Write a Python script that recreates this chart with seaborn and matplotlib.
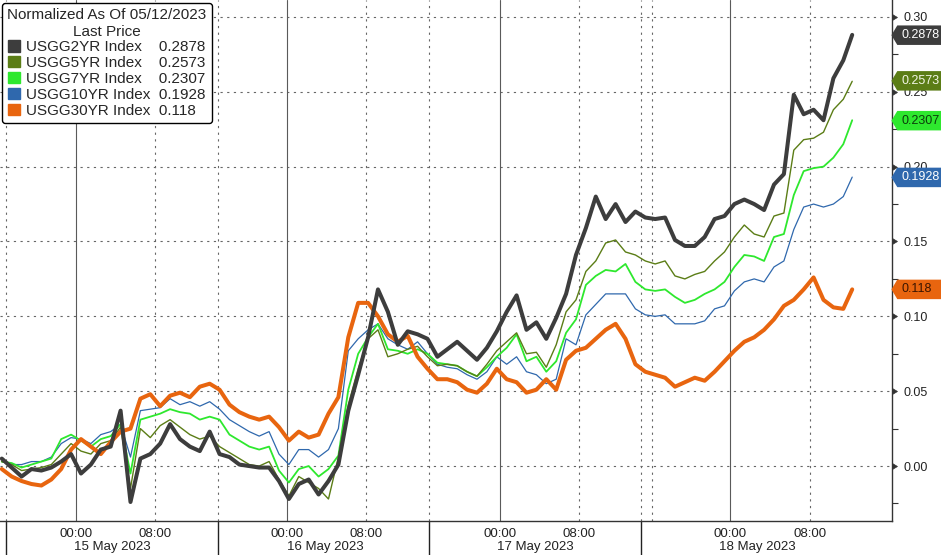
import numpy as np
import pandas as pd
import matplotlib
matplotlib.use("Agg")
import matplotlib.pyplot as plt
import seaborn as sns
from matplotlib.path import Path
from matplotlib.patches import Patch
from matplotlib import font_manager, markers

# time axis in session hours: 15 May 00:00 = 0, one unit per hour on screen
hours = list(np.arange(-7.5, 78.0, 1.0)) + [78.4]

# yield change since 05/12/2023 close
usgg2 = [0.005, -0.001, -0.007, -0.002, -0.003, -0.001, 0.003, 0.008, -0.005, 0.001,
         0.011, 0.013, 0.037, -0.024, 0.005, 0.008, 0.015, 0.028, 0.018, 0.013,
         0.010, 0.023, 0.008, 0.006, 0.001, 0.000, -0.001, -0.001, -0.010, -0.022,
         -0.012, -0.009, -0.019, -0.010, 0.001, 0.037, 0.061, 0.086, 0.118, 0.103,
         0.081, 0.090, 0.088, 0.085, 0.073, 0.078, 0.083, 0.077, 0.071, 0.079,
         0.090, 0.103, 0.114, 0.091, 0.096, 0.085, 0.099, 0.115, 0.141, 0.159,
         0.180, 0.165, 0.175, 0.163, 0.170, 0.166, 0.165, 0.166, 0.151, 0.147,
         0.147, 0.153, 0.165, 0.167, 0.175, 0.178, 0.175, 0.171, 0.188, 0.195,
         0.248, 0.235, 0.238, 0.231, 0.259, 0.271, 0.288]
usgg5 = [0.003, 0.001, -0.003, -0.002, -0.001, 0.001, 0.008, 0.015, 0.010, 0.008,
         0.015, 0.017, 0.026, -0.015, 0.025, 0.019, 0.027, 0.031, 0.026, 0.021,
         0.018, 0.020, 0.013, 0.009, 0.005, 0.001, 0.000, 0.003, -0.009, -0.020,
         -0.007, -0.011, -0.015, -0.022, 0.006, 0.041, 0.065, 0.085, 0.091, 0.073,
         0.075, 0.078, 0.080, 0.073, 0.067, 0.068, 0.067, 0.063, 0.060, 0.068,
         0.077, 0.083, 0.089, 0.075, 0.076, 0.066, 0.081, 0.103, 0.111, 0.130,
         0.137, 0.149, 0.151, 0.143, 0.141, 0.137, 0.135, 0.137, 0.127, 0.125,
         0.128, 0.130, 0.137, 0.143, 0.153, 0.161, 0.155, 0.153, 0.167, 0.169,
         0.211, 0.218, 0.219, 0.223, 0.238, 0.245, 0.257]
usgg7 = [0.003, 0.002, -0.001, 0.001, 0.003, 0.005, 0.018, 0.021, 0.017, 0.013,
         0.018, 0.020, 0.028, -0.005, 0.031, 0.033, 0.035, 0.038, 0.036, 0.035,
         0.031, 0.033, 0.031, 0.021, 0.017, 0.013, 0.011, 0.013, -0.003, -0.011,
         -0.002, 0.000, -0.007, -0.002, 0.007, 0.051, 0.075, 0.086, 0.095, 0.078,
         0.077, 0.075, 0.078, 0.075, 0.069, 0.068, 0.067, 0.063, 0.060, 0.066,
         0.073, 0.079, 0.088, 0.070, 0.073, 0.063, 0.070, 0.089, 0.098, 0.121,
         0.127, 0.131, 0.130, 0.135, 0.123, 0.118, 0.117, 0.118, 0.113, 0.109,
         0.111, 0.115, 0.118, 0.123, 0.133, 0.141, 0.140, 0.137, 0.153, 0.155,
         0.181, 0.197, 0.199, 0.200, 0.206, 0.215, 0.231]
usgg10 = [0.003, 0.001, 0.001, 0.003, 0.003, 0.006, 0.015, 0.019, 0.018, 0.015,
          0.021, 0.023, 0.028, 0.006, 0.037, 0.038, 0.039, 0.045, 0.041, 0.043,
          0.040, 0.043, 0.038, 0.031, 0.027, 0.023, 0.020, 0.023, 0.008, 0.001,
          0.011, 0.011, 0.006, 0.011, 0.025, 0.077, 0.085, 0.091, 0.095, 0.085,
          0.081, 0.078, 0.083, 0.075, 0.068, 0.066, 0.065, 0.061, 0.058, 0.063,
          0.073, 0.068, 0.073, 0.063, 0.061, 0.055, 0.058, 0.085, 0.081, 0.101,
          0.108, 0.115, 0.115, 0.115, 0.105, 0.101, 0.100, 0.101, 0.095, 0.095,
          0.095, 0.097, 0.105, 0.107, 0.117, 0.123, 0.125, 0.123, 0.133, 0.137,
          0.158, 0.173, 0.175, 0.173, 0.175, 0.180, 0.193]
usgg30 = [-0.002, -0.007, -0.010, -0.012, -0.013, -0.009, -0.002, 0.011, 0.018, 0.013,
          0.008, 0.016, 0.023, 0.025, 0.045, 0.048, 0.040, 0.047, 0.049, 0.046,
          0.053, 0.055, 0.051, 0.041, 0.036, 0.033, 0.031, 0.033, 0.026, 0.017,
          0.023, 0.019, 0.021, 0.035, 0.046, 0.086, 0.109, 0.109, 0.100, 0.088,
          0.083, 0.087, 0.073, 0.065, 0.058, 0.058, 0.056, 0.051, 0.049, 0.055,
          0.065, 0.058, 0.056, 0.049, 0.051, 0.058, 0.051, 0.071, 0.077, 0.079,
          0.085, 0.091, 0.095, 0.085, 0.068, 0.063, 0.061, 0.059, 0.053, 0.056,
          0.059, 0.057, 0.063, 0.070, 0.077, 0.083, 0.086, 0.091, 0.098, 0.107,
          0.111, 0.118, 0.126, 0.111, 0.106, 0.105, 0.118]

series_names = ["USGG2YR Index", "USGG5YR Index", "USGG7YR Index",
                "USGG10YR Index", "USGG30YR Index"]
last_prices = ["0.2878", "0.2573", "0.2307", "0.1928", "0.118"]
last_values = [0.2878, 0.2573, 0.2307, 0.1928, 0.118]
colors = ["#3d3d3d", "#5b7d16", "#2ee82e", "#2f68ad", "#e8650f"]
tag_text_colors = ["white", "#f2f6e6", "#0b3d0b", "white", "#3b1500"]
line_widths = [2.9, 1.0, 1.3, 0.9, 2.9]

yticks = [0.0, 0.05, 0.10, 0.15, 0.20, 0.25, 0.30]
midnights = [0.0, 21.3, 42.8, 66.1]
day_breaks = [-7.07, 14.34, 35.66, 57.07]
day_labels = ["15 May 2023", "16 May 2023", "17 May 2023", "18 May 2023"]
day_label_pos = [3.64, 25.15, 46.36, 68.79]

all_series = [usgg2, usgg5, usgg7, usgg10, usgg30]
df = pd.DataFrame({
    "hour": hours * len(all_series),
    "value": sum(all_series, []),
    "series": sum([[n] * len(hours) for n in series_names], []),
})

sns.set_theme(style="white")
installed = {f.name for f in font_manager.fontManager.ttflist}
narrow = "Liberation Sans Narrow" if "Liberation Sans Narrow" in installed else "Liberation Sans"
plt.rcParams["font.family"] = ["Liberation Sans", "DejaVu Sans"]
narrow_font = font_manager.FontProperties(family=narrow, size=9.5)
legend_font = font_manager.FontProperties(family=narrow, size=11)

fig = plt.figure(figsize=(9.41, 5.55), dpi=100)
ax = fig.add_axes([0.0, 1 - 521 / 555, 892 / 941, 521 / 555])

# grid first so it sits under the lines
for v in yticks:
    ax.axhline(v, color="#666666", lw=0.8, ls=(0, (2, 4)), zorder=0.5)
for m in midnights:
    ax.axvline(m, color="#5a5a5a", lw=0.8, zorder=0.5)
for t in [m + 8 for m in midnights] + day_breaks + [58.2]:
    ax.axvline(t, color="#666666", lw=0.8, ls=(0, (2, 4)), zorder=0.5)

# thin lines underneath, 30yr and 2yr on top
for i in [3, 2, 1, 4, 0]:
    sns.lineplot(data=df[df["series"] == series_names[i]], x="hour", y="value",
                 color=colors[i], linewidth=line_widths[i], ax=ax, legend=False,
                 zorder=2 + (i in (0, 4)))

ax.set_xlim(-7.68, 82.42)
ax.set_ylim(-0.0367, 0.3113)
ax.set_xlabel("")
ax.set_ylabel("")

for side in ["left", "top"]:
    ax.spines[side].set_visible(False)
for side in ["right", "bottom"]:
    ax.spines[side].set_color("#333333")
    ax.spines[side].set_linewidth(1.0)

# y axis on the right
ax.yaxis.tick_right()
ax.set_yticks(yticks, labels=[f"{v:.2f}" for v in yticks])
ax.set_yticks([-0.025, 0.025, 0.075, 0.125, 0.175, 0.225, 0.275], minor=True)
ax.tick_params(axis="y", which="major", length=5, width=0.5, pad=3,
               labelsize=9, colors="#333333", labelcolor="#222222")
ax.tick_params(axis="y", which="minor", length=4, width=0.8, colors="#333333")
for tk in ax.yaxis.get_major_ticks():
    tk.tick2line.set_marker(markers.CARETRIGHTBASE)

# hour ticks
hour_major = sorted(midnights + [m + 8 for m in midnights])
hour_minor = sorted([m - 4 for m in midnights] + [m + 4 for m in midnights]
                    + [m + 12 for m in midnights] + [58.2])
ax.set_xticks(hour_major, labels=["00:00", "08:00"] * 4)
ax.set_xticks(hour_minor, minor=True)
ax.tick_params(axis="x", which="both", length=4, width=0.8, colors="#333333",
               pad=1, labelcolor="#222222")
for lab in ax.get_xticklabels():
    lab.set_fontproperties(narrow_font)

# day separators and day names
sec = ax.secondary_xaxis("bottom")
sec.set_xticks(day_breaks, labels=[""] * len(day_breaks))
sec.set_xticks(day_label_pos, labels=day_labels, minor=True)
sec.tick_params(which="major", length=25, width=1.0, colors="#222222")
sec.tick_params(which="minor", length=0, pad=14.5, labelcolor="#222222")
for lab in sec.get_xticklabels(minor=True):
    lab.set_fontproperties(narrow_font)
sec.spines["bottom"].set_visible(False)


def tag_box(x0, y0, width, height, mutation_size):
    pad = 0.3 * mutation_size
    x0, y0 = x0 - pad, y0 - pad
    w, h = width + 2 * pad + 20, height + 2 * pad
    tip = 0.3 * h
    verts = [(x0, y0), (x0 + w, y0), (x0 + w, y0 + h), (x0, y0 + h),
             (x0 - tip, y0 + h / 2), (x0, y0)]
    return Path(verts, closed=True)


# last-price tags on the right axis
for i in range(len(series_names)):
    ax.annotate(last_prices[i], xy=(1.0, last_values[i]),
                xycoords=ax.get_yaxis_transform(), xytext=(6.5, 0),
                textcoords="offset points", ha="left", va="center",
                fontsize=9, color=tag_text_colors[i], annotation_clip=False,
                zorder=6,
                bbox=dict(boxstyle=tag_box, facecolor=colors[i], edgecolor="none"))

handles = [Patch(facecolor=c, edgecolor=c) for c in colors]
gaps = ["    ", "    ", "    ", "  ", "  "]
labels = [series_names[i] + gaps[i] + last_prices[i] for i in range(len(series_names))]
leg = ax.legend(handles, labels, title="Normalized As Of 05/12/2023\nLast Price",
                loc="upper left", bbox_to_anchor=(2 / 892, 1 - 3 / 521),
                borderaxespad=0, frameon=True, fancybox=True, framealpha=1,
                edgecolor="black", facecolor="white",
                handlelength=0.75, handleheight=0.75, handletextpad=0.45,
                labelspacing=0.12, borderpad=0.35, prop=legend_font,
                title_fontproperties=legend_font)
leg.get_title().set_multialignment("center")
leg.get_frame().set_linewidth(1.0)
leg.set_zorder(10)

fig.savefig("out.png", dpi=100)
